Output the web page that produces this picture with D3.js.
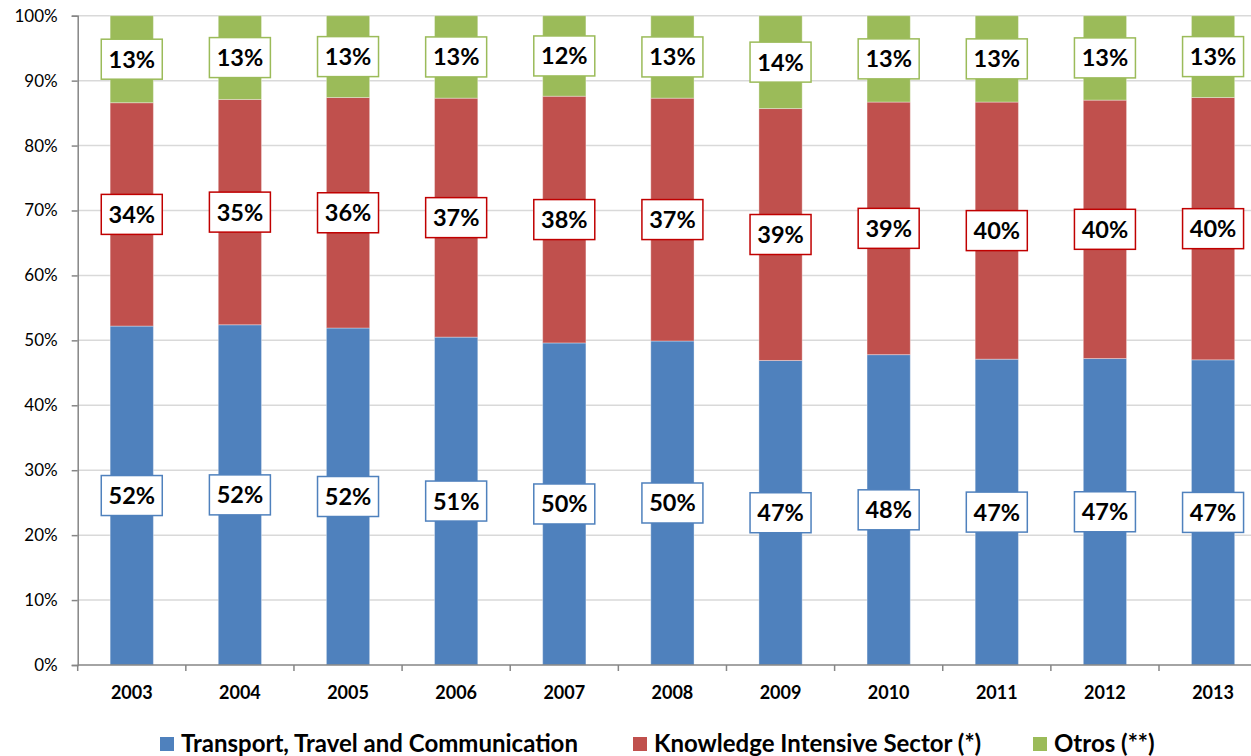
<!DOCTYPE html>
<html>
<head>
<meta charset="utf-8">
<script src="https://cdn.jsdelivr.net/npm/d3@7/dist/d3.min.js"></script>
<style>
  html, body { margin: 0; padding: 0; background: #fff; overflow: hidden; }
  svg { display: block; font-family: Lato, "Open Sans", sans-serif; }
</style>
</head>
<body>
<svg id="chart" width="1251" height="756"></svg>
<script>
// ---- data ----
const years = ["2003","2004","2005","2006","2007","2008","2009","2010","2011","2012","2013"];
const transport = [52.2, 52.4, 51.9, 50.5, 49.6, 49.9, 46.9, 47.8, 47.1, 47.2, 47.0];
const knowledge = [34.4, 34.7, 35.5, 36.8, 38.0, 37.4, 38.8, 38.9, 39.6, 39.8, 40.4];
const otros     = [13.4, 12.9, 12.6, 12.7, 12.4, 12.7, 14.3, 13.3, 13.3, 13.0, 12.6];
const seriesNames = ["Transport, Travel and Communication", "Knowledge Intensive Sector (*)", "Otros (**)"];
const yTickValues = [0, 10, 20, 30, 40, 50, 60, 70, 80, 90, 100];

(function () {
// ---- styles ----
const keys = ["transport", "knowledge", "otros"];
const fills = { transport: "#4f81bd", knowledge: "#c0504d", otros: "#9bbb59" };
const borders = { transport: "#4f81bd", knowledge: "#c00000", otros: "#9bbb59" };

const table = years.map((yr, i) => ({ year: yr, transport: transport[i], knowledge: knowledge[i], otros: otros[i] }));

const svg = d3.select("#chart");
const plotLeft = 77.7, step = 108.13, plotBottom = 665, plotTop = 15.7;

const x = d3.scaleBand().domain(years)
  .range([plotLeft, plotLeft + step * years.length])
  .paddingInner(0.6).paddingOuter(0.3);
const y = d3.scaleLinear().domain([0, 100]).range([plotBottom, plotTop]);

// gridlines
svg.append("g").selectAll("line").data(yTickValues.filter(d => d > 0)).join("line")
  .attr("x1", plotLeft).attr("x2", 1251)
  .attr("y1", d => y(d)).attr("y2", d => y(d))
  .attr("stroke", "#d9d9d9").attr("stroke-width", 1.5);

// y axis
const yAxis = svg.append("g").attr("transform", `translate(${plotLeft},0)`)
  .call(d3.axisLeft(y).tickValues(yTickValues).tickFormat(d => d + "%").tickSize(6).tickPadding(14));
yAxis.select(".domain").attr("stroke", "#868686").attr("stroke-width", 1.5);
yAxis.selectAll(".tick line").attr("stroke", "#868686").attr("stroke-width", 1.5);
yAxis.selectAll(".tick text").attr("font-family", "Lato, sans-serif").attr("font-size", 17).attr("fill", "#000");

// bars
const stack = d3.stack().keys(keys)(table);
const layers = svg.append("g").selectAll("g").data(stack).join("g")
  .attr("fill", d => fills[d.key]);
layers.selectAll("rect").data(d => d).join("rect")
  .attr("x", d => x(d.data.year))
  .attr("width", x.bandwidth())
  .attr("y", d => y(d[1]))
  .attr("height", d => y(d[0]) - y(d[1]))
  .attr("stroke", "rgba(255,255,255,0.35)").attr("stroke-width", 1);

// x axis line and ticks at category boundaries
const gap = (x.step() - x.bandwidth()) / 2;
const xg = svg.append("g");
xg.append("line").attr("x1", plotLeft).attr("x2", 1251).attr("y1", plotBottom).attr("y2", plotBottom)
  .attr("stroke", "#868686").attr("stroke-width", 1.5);
const bounds = years.map(d => x(d) - gap).concat([x(years[years.length - 1]) + x.bandwidth() + gap]);
xg.selectAll("line.tk").data(bounds).join("line").attr("class", "tk")
  .attr("x1", d => d).attr("x2", d => d).attr("y1", plotBottom).attr("y2", plotBottom + 6)
  .attr("stroke", "#868686").attr("stroke-width", 1.5);
xg.selectAll("text").data(years).join("text")
  .attr("x", d => x(d) + x.bandwidth() / 2).attr("y", 699)
  .attr("text-anchor", "middle").attr("font-weight", "bold").attr("font-size", 18)
  .text(d => d);

// data labels
const lab = svg.append("g");
stack.forEach(layer => {
  const g = lab.append("g");
  const items = g.selectAll("g").data(layer).join("g")
    .attr("transform", d => `translate(${x(d.data.year) + x.bandwidth() / 2},${y((d[0] + d[1]) / 2)})`);
  items.append("rect").attr("x", -30.5).attr("y", -20).attr("width", 61).attr("height", 40)
    .attr("fill", "#fff").attr("stroke", borders[layer.key]).attr("stroke-width", 1.5);
  items.append("text").attr("text-anchor", "middle").attr("y", 8.5)
    .attr("font-weight", "bold").attr("font-size", 23.5).attr("fill", "#000")
    .text(d => Math.round(d[1] - d[0]) + "%");
});

// legend
const legendX = [160, 633, 1033];
const leg = svg.append("g").selectAll("g").data(keys).join("g")
  .attr("transform", (d, i) => `translate(${legendX[i]},0)`);
leg.append("rect").attr("x", 0).attr("y", 737).attr("width", 14).attr("height", 14)
  .attr("fill", d => fills[d]);
leg.append("text").attr("x", 21).attr("y", 751.5)
  .attr("font-weight", "bold").attr("font-size", 24).attr("fill", "#000")
  .text((d, i) => seriesNames[i]);
})();
</script>
</body>
</html>
